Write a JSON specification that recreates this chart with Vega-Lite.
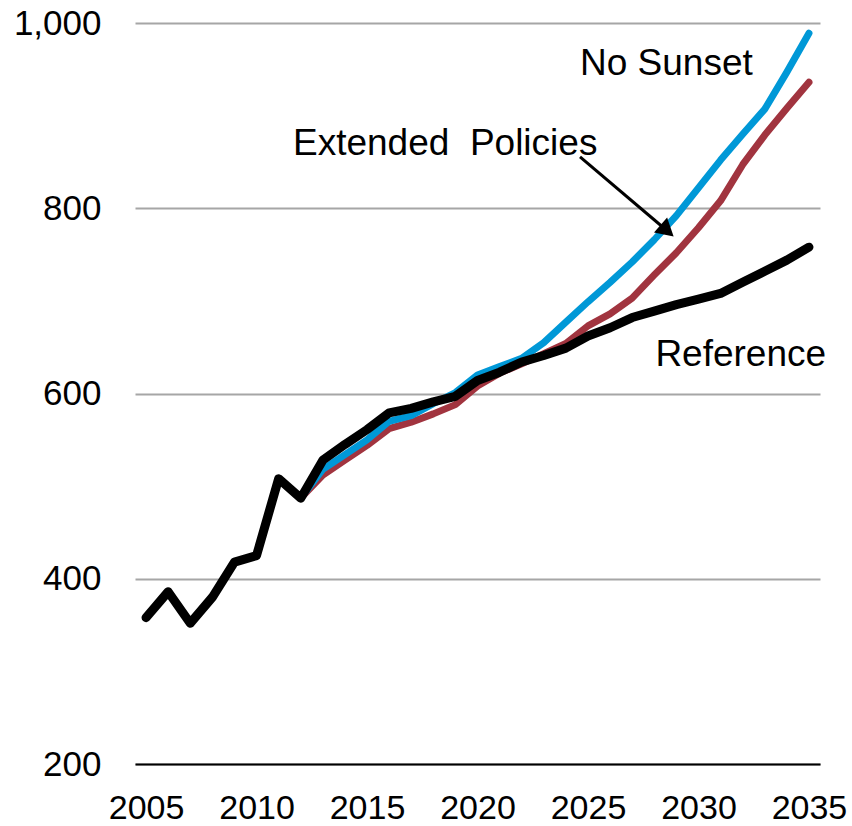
{
  "$schema": "https://vega.github.io/schema/vega-lite/v6.json",
  "width": 685,
  "height": 741,
  "autosize": "none",
  "padding": {"left": 135, "top": 23, "right": 32, "bottom": 62},
  "background": "white",
  "config": {"view": {"stroke": null}, "font": "Liberation Sans"},
  "datasets": {
    "series": [
      {"year": 2005, "scenario": "Reference", "value": 358},
      {"year": 2006, "scenario": "Reference", "value": 386},
      {"year": 2007, "scenario": "Reference", "value": 352},
      {"year": 2008, "scenario": "Reference", "value": 380},
      {"year": 2009, "scenario": "Reference", "value": 418},
      {"year": 2010, "scenario": "Reference", "value": 425},
      {"year": 2011, "scenario": "Reference", "value": 508},
      {"year": 2012, "scenario": "Reference", "value": 487},
      {"year": 2013, "scenario": "Reference", "value": 528},
      {"year": 2014, "scenario": "Reference", "value": 545},
      {"year": 2015, "scenario": "Reference", "value": 561},
      {"year": 2016, "scenario": "Reference", "value": 579},
      {"year": 2017, "scenario": "Reference", "value": 584},
      {"year": 2018, "scenario": "Reference", "value": 591},
      {"year": 2019, "scenario": "Reference", "value": 597},
      {"year": 2020, "scenario": "Reference", "value": 614},
      {"year": 2021, "scenario": "Reference", "value": 623},
      {"year": 2022, "scenario": "Reference", "value": 634},
      {"year": 2023, "scenario": "Reference", "value": 641},
      {"year": 2024, "scenario": "Reference", "value": 649},
      {"year": 2025, "scenario": "Reference", "value": 662},
      {"year": 2026, "scenario": "Reference", "value": 671},
      {"year": 2027, "scenario": "Reference", "value": 682},
      {"year": 2028, "scenario": "Reference", "value": 689},
      {"year": 2029, "scenario": "Reference", "value": 696},
      {"year": 2030, "scenario": "Reference", "value": 702},
      {"year": 2031, "scenario": "Reference", "value": 708},
      {"year": 2032, "scenario": "Reference", "value": 720},
      {"year": 2033, "scenario": "Reference", "value": 732},
      {"year": 2034, "scenario": "Reference", "value": 744},
      {"year": 2035, "scenario": "Reference", "value": 758},
      {"year": 2012, "scenario": "No Sunset", "value": 487},
      {"year": 2013, "scenario": "No Sunset", "value": 518},
      {"year": 2014, "scenario": "No Sunset", "value": 534},
      {"year": 2015, "scenario": "No Sunset", "value": 550},
      {"year": 2016, "scenario": "No Sunset", "value": 570},
      {"year": 2017, "scenario": "No Sunset", "value": 576},
      {"year": 2018, "scenario": "No Sunset", "value": 589},
      {"year": 2019, "scenario": "No Sunset", "value": 601},
      {"year": 2020, "scenario": "No Sunset", "value": 620},
      {"year": 2021, "scenario": "No Sunset", "value": 629},
      {"year": 2022, "scenario": "No Sunset", "value": 638},
      {"year": 2023, "scenario": "No Sunset", "value": 655},
      {"year": 2024, "scenario": "No Sunset", "value": 677},
      {"year": 2025, "scenario": "No Sunset", "value": 699},
      {"year": 2026, "scenario": "No Sunset", "value": 720},
      {"year": 2027, "scenario": "No Sunset", "value": 742},
      {"year": 2028, "scenario": "No Sunset", "value": 766},
      {"year": 2029, "scenario": "No Sunset", "value": 792},
      {"year": 2030, "scenario": "No Sunset", "value": 822},
      {"year": 2031, "scenario": "No Sunset", "value": 852},
      {"year": 2032, "scenario": "No Sunset", "value": 880},
      {"year": 2033, "scenario": "No Sunset", "value": 907},
      {"year": 2034, "scenario": "No Sunset", "value": 947},
      {"year": 2035, "scenario": "No Sunset", "value": 989},
      {"year": 2012, "scenario": "Extended Policies", "value": 487},
      {"year": 2013, "scenario": "Extended Policies", "value": 512},
      {"year": 2014, "scenario": "Extended Policies", "value": 528},
      {"year": 2015, "scenario": "Extended Policies", "value": 544},
      {"year": 2016, "scenario": "Extended Policies", "value": 562},
      {"year": 2017, "scenario": "Extended Policies", "value": 569},
      {"year": 2018, "scenario": "Extended Policies", "value": 578},
      {"year": 2019, "scenario": "Extended Policies", "value": 588},
      {"year": 2020, "scenario": "Extended Policies", "value": 608},
      {"year": 2021, "scenario": "Extended Policies", "value": 622},
      {"year": 2022, "scenario": "Extended Policies", "value": 632},
      {"year": 2023, "scenario": "Extended Policies", "value": 643},
      {"year": 2024, "scenario": "Extended Policies", "value": 654},
      {"year": 2025, "scenario": "Extended Policies", "value": 673},
      {"year": 2026, "scenario": "Extended Policies", "value": 686},
      {"year": 2027, "scenario": "Extended Policies", "value": 703},
      {"year": 2028, "scenario": "Extended Policies", "value": 728},
      {"year": 2029, "scenario": "Extended Policies", "value": 752},
      {"year": 2030, "scenario": "Extended Policies", "value": 779},
      {"year": 2031, "scenario": "Extended Policies", "value": 808},
      {"year": 2032, "scenario": "Extended Policies", "value": 847},
      {"year": 2033, "scenario": "Extended Policies", "value": 879},
      {"year": 2034, "scenario": "Extended Policies", "value": 908},
      {"year": 2035, "scenario": "Extended Policies", "value": 936}
    ],
    "notes": [
      {"label": "No Sunset", "year": 2024.64, "value": 944},
      {"label": "Extended\u00a0 Policies", "year": 2011.65, "value": 857.6},
      {"label": "Reference", "year": 2028.05, "value": 630}
    ],
    "arrow": [
      {"year": 2024.64, "value": 855.5, "year2": 2028.58, "value2": 775.7}
    ]
  },
  "layer": [
    {
      "data": {"name": "series"},
      "transform": [{"filter": "datum.scenario === 'Extended Policies'"}],
      "mark": {"type": "line", "color": "#A1343F", "strokeWidth": 7, "strokeCap": "round", "strokeJoin": "round"},
      "encoding": {
        "x": {
          "field": "year",
          "type": "quantitative",
          "scale": {"domain": [2004.5, 2035.5], "nice": false, "zero": false},
          "axis": {
            "values": [2005, 2010, 2015, 2020, 2025, 2030, 2035],
            "format": "d",
            "title": null,
            "grid": false,
            "ticks": false,
            "domainColor": "black",
            "domainWidth": 2,
            "labelFontSize": 34,
            "labelColor": "black",
            "labelPadding": 27,
            "labelFlush": false,
            "zindex": 1
          }
        },
        "y": {
          "field": "value",
          "type": "quantitative",
          "scale": {"domain": [200, 1000], "nice": false, "zero": false},
          "axis": {
            "values": [200, 400, 600, 800, 1000],
            "format": ",.0f",
            "title": null,
            "domain": false,
            "ticks": false,
            "gridColor": "#a6a6a6",
            "gridWidth": 2,
            "labelFontSize": 35,
            "labelColor": "black",
            "labelPadding": 34
          }
        }
      }
    },
    {
      "data": {"name": "series"},
      "transform": [{"filter": "datum.scenario === 'No Sunset'"}],
      "mark": {"type": "line", "color": "#0098D7", "strokeWidth": 7, "strokeCap": "round", "strokeJoin": "round"},
      "encoding": {
        "x": {"field": "year", "type": "quantitative"},
        "y": {"field": "value", "type": "quantitative"}
      }
    },
    {
      "data": {"name": "series"},
      "transform": [{"filter": "datum.scenario === 'Reference'"}],
      "mark": {"type": "line", "color": "black", "strokeWidth": 9, "strokeCap": "round", "strokeJoin": "round"},
      "encoding": {
        "x": {"field": "year", "type": "quantitative"},
        "y": {"field": "value", "type": "quantitative"}
      }
    },
    {
      "data": {"name": "notes"},
      "mark": {"type": "text", "fontSize": 37, "color": "black", "align": "left", "baseline": "alphabetic"},
      "encoding": {
        "x": {"field": "year", "type": "quantitative"},
        "y": {"field": "value", "type": "quantitative"},
        "text": {"field": "label", "type": "nominal"}
      }
    },
    {
      "data": {"name": "arrow"},
      "mark": {"type": "rule", "color": "black", "strokeWidth": 3},
      "encoding": {
        "x": {"field": "year", "type": "quantitative"},
        "y": {"field": "value", "type": "quantitative"},
        "x2": {"field": "year2"},
        "y2": {"field": "value2"}
      }
    },
    {
      "data": {"name": "arrow"},
      "mark": {"type": "point", "shape": "triangle-up", "filled": true, "color": "black", "opacity": 1, "size": 400, "angle": 131},
      "encoding": {
        "x": {"field": "year2", "type": "quantitative"},
        "y": {"field": "value2", "type": "quantitative"}
      }
    }
  ]
}
